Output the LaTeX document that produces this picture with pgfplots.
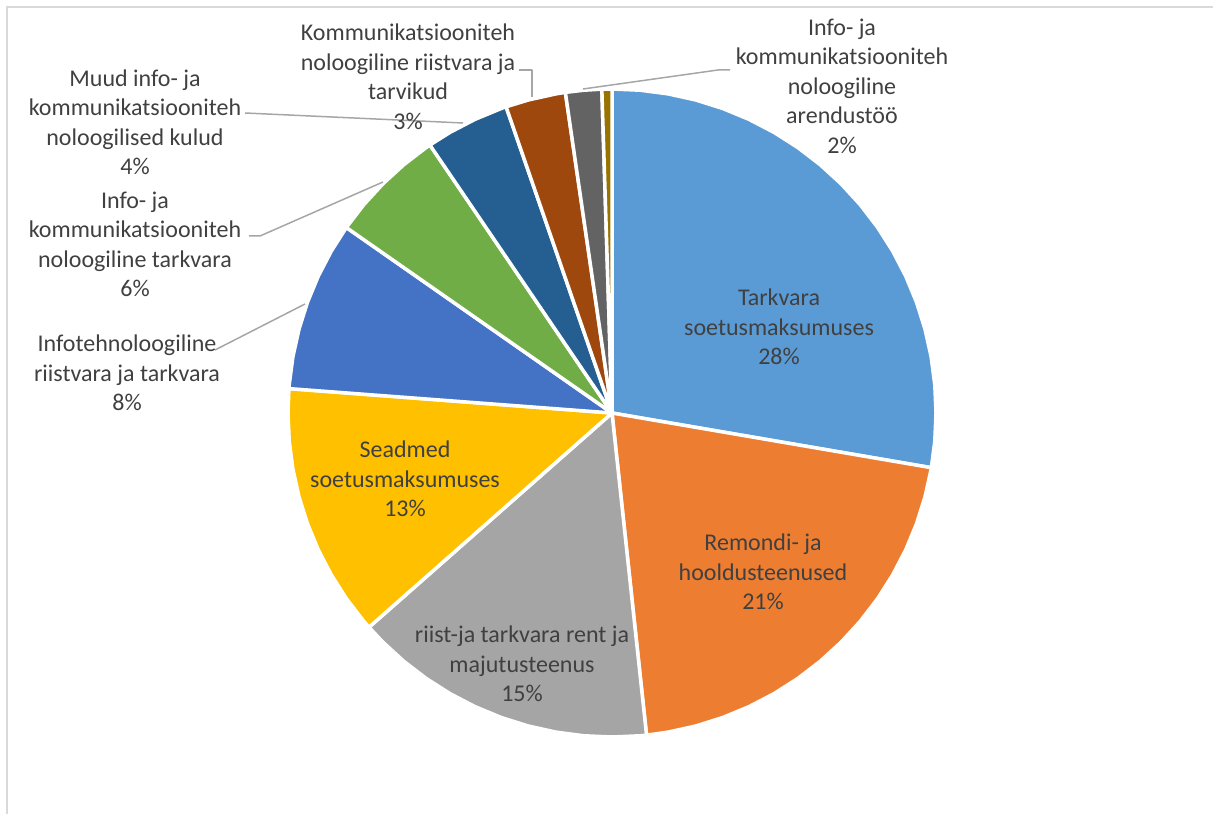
\documentclass[border=0pt]{standalone}
\usepackage{fontspec}
\setmainfont{Carlito}
\usepackage{pgfplots}
\pgfplotsset{compat=1.18}
\definecolor{c1}{HTML}{5B9BD5}
\definecolor{c2}{HTML}{ED7D31}
\definecolor{c3}{HTML}{A5A5A5}
\definecolor{c4}{HTML}{FFC000}
\definecolor{c5}{HTML}{4472C4}
\definecolor{c6}{HTML}{70AD47}
\definecolor{c7}{HTML}{255E91}
\definecolor{c8}{HTML}{9E480E}
\definecolor{c9}{HTML}{636363}
\definecolor{c10}{HTML}{997300}
\definecolor{lbl}{HTML}{404040}
\definecolor{lead}{HTML}{A6A6A6}
\definecolor{frame}{HTML}{D9D9D9}
% Shares (%): 27.7, 20.6, 15.2, 12.7, 8.5, 5.8, 4.2, 3.0, 1.8, 0.5
% Slice boundaries (deg) = 90 - 3.6 * cumulative share
\begin{document}
\begin{tikzpicture}
\begin{axis}[scale only axis, width=606.5pt, height=407pt,
  xmin=-612, xmax=601, ymin=-401, ymax=413, hide axis, clip=false,
  every axis plot/.append style={line join=round}]
\pgfplotsset{slice/.style={draw=white, line width=1.75pt, data cs=polar}}
\addplot[slice, fill=c1] coordinates {(0,0) (90,324) (85,324) (80,324) (75,324) (70,324) (65,324) (60,324) (55,324) (50,324) (45,324) (40,324) (35,324) (30,324) (25,324) (20,324) (15,324) (10,324) (5,324) (0,324) (-5,324) (-9.72,324) (0,0)};
\addplot[slice, fill=c2] coordinates {(0,0) (-9.72,324) (-10,324) (-15,324) (-20,324) (-25,324) (-30,324) (-35,324) (-40,324) (-45,324) (-50,324) (-55,324) (-60,324) (-65,324) (-70,324) (-75,324) (-80,324) (-83.88,324) (0,0)};
\addplot[slice, fill=c3] coordinates {(0,0) (-83.88,324) (-85,324) (-90,324) (-95,324) (-100,324) (-105,324) (-110,324) (-115,324) (-120,324) (-125,324) (-130,324) (-135,324) (-138.6,324) (0,0)};
\addplot[slice, fill=c4] coordinates {(0,0) (-138.6,324) (-140,324) (-145,324) (-150,324) (-155,324) (-160,324) (-165,324) (-170,324) (-175,324) (-180,324) (-184.32,324) (0,0)};
\addplot[slice, fill=c5] coordinates {(0,0) (-184.32,324) (-185,324) (-190,324) (-195,324) (-200,324) (-205,324) (-210,324) (-214.92,324) (0,0)};
\addplot[slice, fill=c6] coordinates {(0,0) (-214.92,324) (-215,324) (-220,324) (-225,324) (-230,324) (-235,324) (-235.8,324) (0,0)};
\addplot[slice, fill=c7] coordinates {(0,0) (-235.8,324) (-240,324) (-245,324) (-250,324) (-250.92,324) (0,0)};
\addplot[slice, fill=c8] coordinates {(0,0) (-250.92,324) (-255,324) (-260,324) (-261.72,324) (0,0)};
\addplot[slice, fill=c9] coordinates {(0,0) (-261.72,324) (-265,324) (-268.2,324) (0,0)};
\addplot[slice, fill=c10] coordinates {(0,0) (-268.2,324) (-270,324) (0,0)};
% leader lines
\pgfplotsset{leader/.style={draw=lead, line width=0.75pt}}
\addplot[leader] coordinates {(-397,63) (-307,109)};
\addplot[leader] coordinates {(-363,177) (-352,177) (-229,231)};
\addplot[leader] coordinates {(-367,300) (-149,290)};
\addplot[leader] coordinates {(-93,343) (-80,343) (-80,316)};
\addplot[leader] coordinates {(-29,324) (106,343) (118,343)};
% frame
\draw[frame, line width=1pt] (axis cs:-605,-401) -- (axis cs:-605,406) -- (axis cs:601,406);
% labels
\tikzset{lab/.style={align=center, text=lbl, font=\fontsize{12pt}{14.75pt}\selectfont, inner sep=0pt}}
\node[lab] at (axis cs:167,86) {Tarkvara\\soetusmaksumuses\\28\%};
\node[lab] at (axis cs:151,-159) {Remondi- ja\\hooldusteenused\\21\%};
\node[lab] at (axis cs:-90,-251) {riist-ja tarkvara rent ja\\majutusteenus\\15\%};
\node[lab] at (axis cs:-207,-66) {Seadmed\\soetusmaksumuses\\13\%};
\node[lab] at (axis cs:-485,40) {Infotehnoloogiline\\riistvara ja tarkvara\\8\%};
\node[lab] at (axis cs:-477,168.5) {Info- ja\\kommunikatsiooniteh\\noloogiline tarkvara\\6\%};
\node[lab] at (axis cs:-477,290.5) {Muud info- ja\\kommunikatsiooniteh\\noloogilised kulud\\4\%};
\node[lab] at (axis cs:-204,336) {Kommunikatsiooniteh\\noloogiline riistvara ja\\tarvikud\\3\%};
\node[lab] at (axis cs:230,327) {Info- ja\\kommunikatsiooniteh\\noloogiline\\arendustöö\\2\%};
\end{axis}
\pgfresetboundingbox
\path[use as bounding box] (current axis.south west) rectangle (current axis.north east);
\end{tikzpicture}
\end{document}
